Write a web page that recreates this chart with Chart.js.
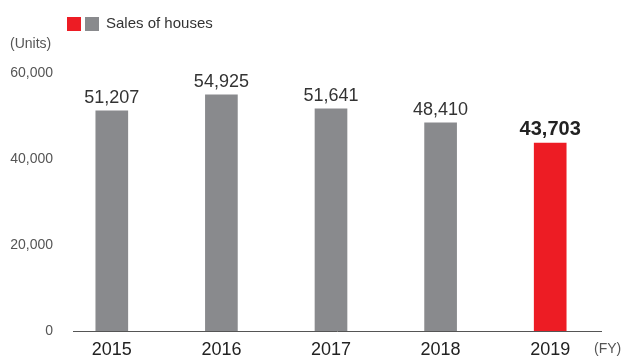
<!DOCTYPE html>
<html>
<head>
<meta charset="utf-8">
<script src="https://cdn.jsdelivr.net/npm/chart.js@4/dist/chart.umd.min.js"></script>
<style>
  html, body { margin: 0; padding: 0; background: #fff; }
  #wrap { width: 625px; height: 356px; position: relative; }
</style>
</head>
<body>
<div id="wrap"><canvas id="chart"></canvas></div>
<script>
// chart data
const years = ["2015", "2016", "2017", "2018", "2019"];
const sales = [51207, 54925, 51641, 48410, 43703];
const yTicks = [0, 20000, 40000, 60000];

const GRAY = "#898a8d";
const RED = "#ed1c24";
const FONT = "'Liberation Sans', Arial, sans-serif";

const barColors = years.map((y, i) => (i === years.length - 1 ? RED : GRAY));

// labels above bars, legend, axis titles, baseline
const extras = {
  id: "extras",
  afterDatasetsDraw(chart) {
    const ctx = chart.ctx;
    const meta = chart.getDatasetMeta(0);
    const area = chart.chartArea;
    ctx.save();

    // baseline
    ctx.strokeStyle = "#555";
    ctx.lineWidth = 1;
    ctx.beginPath();
    ctx.moveTo(73, Math.round(area.bottom) + 0.5);
    ctx.lineTo(602, Math.round(area.bottom) + 0.5);
    ctx.stroke();

    // value labels
    ctx.textAlign = "center";
    ctx.textBaseline = "alphabetic";
    meta.data.forEach((bar, i) => {
      const last = i === sales.length - 1;
      ctx.font = (last ? "bold 20px " : "18px ") + FONT;
      ctx.fillStyle = last ? "#222" : "#333";
      ctx.fillText(sales[i].toLocaleString("en-US"), bar.x, bar.y - 8);
    });

    // legend
    ctx.fillStyle = RED;
    ctx.fillRect(67, 17, 14, 14);
    ctx.fillStyle = GRAY;
    ctx.fillRect(85, 17, 14, 14);
    ctx.fillStyle = "#333";
    ctx.font = "15px " + FONT;
    ctx.textAlign = "left";
    ctx.textBaseline = "middle";
    ctx.fillText("Sales of houses", 106, 24);

    // unit labels
    ctx.fillStyle = "#555";
    ctx.font = "14px " + FONT;
    ctx.fillText("(Units)", 10, 44);
    ctx.fillText("(FY)", 594, 349);
    ctx.restore();
  }
};

new Chart(document.getElementById("chart"), {
  type: "bar",
  data: {
    labels: years,
    datasets: [{
      label: "Sales of houses",
      data: sales,
      backgroundColor: barColors,
      barThickness: 32
    }]
  },
  options: {
    responsive: true,
    maintainAspectRatio: false,
    animation: false,
    layout: { padding: { top: 73, right: 20, left: 0, bottom: 0 } },
    plugins: { legend: { display: false }, tooltip: { enabled: false } },
    scales: {
      x: {
        grid: { display: false, drawTicks: false },
        border: { display: false },
        ticks: { color: "#222", font: { family: FONT, size: 18 }, padding: 8 },
        afterFit: (s) => { s.height = 25; }
      },
      y: {
        min: 0,
        max: 60000,
        grid: { display: false, drawTicks: false },
        border: { display: false },
        afterBuildTicks: (s) => { s.ticks = yTicks.map(v => ({ value: v })); },
        ticks: {
          color: "#555",
          font: { family: FONT, size: 14 },
          padding: 4,
          callback: (v) => v.toLocaleString("en-US")
        },
        afterFit: (s) => { s.width = 57; }
      }
    }
  },
  plugins: [extras]
});
</script>
</body>
</html>
